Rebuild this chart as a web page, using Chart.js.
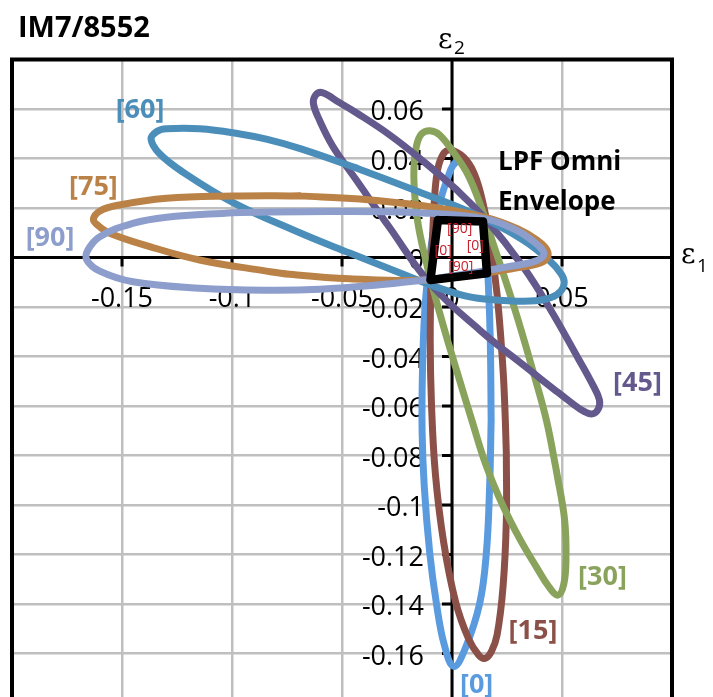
<!DOCTYPE html>
<html>
<head>
<meta charset="utf-8">
<script src="https://cdn.jsdelivr.net/npm/chart.js@4.4.1/dist/chart.umd.min.js"></script>
<style>
  html, body { margin: 0; padding: 0; background: #fff; overflow: hidden; width: 713px; height: 697px; }
  canvas { display: block; }
</style>
</head>
<body>
<canvas id="c" width="713" height="720"></canvas>
<script>
// Lamina failure ellipses in strain space (ε1, ε2) for IM7/8552 plies,
// plus the laminate-independent omni failure envelope.
// Each loop starts on a flat stretch of its outline so the closing joint stays smooth.

const PLY_NAMES = ['[0]', '[15]', '[30]', '[45]', '[60]', '[75]', '[90]'];

const PLY_0 = [[0.0178,-0.0657],[0.0174,-0.0333],[0.0165,-0.0104],[0.0153,0.0060],[0.0126,0.0246],[0.0092,0.0340],[0.0058,0.0382],[0.0030,0.0391],[0.0003,0.0370],[-0.0020,0.0320],[-0.0048,0.0246],[-0.0082,0.0120],[-0.0107,-0.0050],[-0.0124,-0.0220],[-0.0134,-0.0450],[-0.0136,-0.0700],[-0.0126,-0.0926],[-0.0101,-0.1195],[-0.0071,-0.1397],[-0.0035,-0.1565],[0.0008,-0.1652],[0.0060,-0.1580],[0.0126,-0.1397],[0.0156,-0.1195],[0.0171,-0.0926],[0.0178,-0.0657]];

const PLY_15 = [[0.0247,-0.0791],[0.0240,-0.0600],[0.0231,-0.0440],[0.0205,-0.0150],[0.0171,0.0080],[0.0130,0.0260],[0.0090,0.0360],[0.0040,0.0415],[-0.0018,0.0434],[-0.0050,0.0400],[-0.0068,0.0340],[-0.0079,0.0246],[-0.0087,0.0111],[-0.0094,-0.0037],[-0.0099,-0.0333],[-0.0093,-0.0600],[-0.0075,-0.0880],[-0.0038,-0.1150],[0.0016,-0.1390],[0.0075,-0.1540],[0.0120,-0.1605],[0.0150,-0.1620],[0.0180,-0.1590],[0.0205,-0.1525],[0.0232,-0.1330],[0.0247,-0.1061],[0.0247,-0.0791]];

const PLY_30 = [[0.0474,-0.0859],[0.0429,-0.0657],[0.0371,-0.0468],[0.0282,-0.0199],[0.0180,0.0075],[0.0132,0.0205],[0.0075,0.0330],[0.0012,0.0418],[-0.0056,0.0495],[-0.0100,0.0512],[-0.0140,0.0498],[-0.0162,0.0448],[-0.0173,0.0360],[-0.0170,0.0260],[-0.0155,0.0140],[-0.0125,0.0010],[-0.0085,-0.0130],[-0.0035,-0.0290],[0.0025,-0.0468],[0.0090,-0.0657],[0.0155,-0.0840],[0.0230,-0.1000],[0.0310,-0.1140],[0.0390,-0.1260],[0.0440,-0.1330],[0.0482,-0.1364],[0.0508,-0.1320],[0.0518,-0.1222],[0.0512,-0.1061],[0.0474,-0.0859]];

const PLY_45 = [[0.0020,0.0275],[0.0156,0.0152],[0.0323,-0.0037],[0.0444,-0.0205],[0.0575,-0.0410],[0.0640,-0.0515],[0.0670,-0.0575],[0.0665,-0.0612],[0.0638,-0.0632],[0.0600,-0.0622],[0.0540,-0.0585],[0.0460,-0.0530],[0.0353,-0.0455],[0.0126,-0.0293],[-0.0101,-0.0104],[-0.0283,0.0120],[-0.0435,0.0313],[-0.0541,0.0448],[-0.0605,0.0560],[-0.0630,0.0622],[-0.0620,0.0656],[-0.0590,0.0666],[-0.0510,0.0625],[-0.0435,0.0585],[-0.0283,0.0495],[-0.0132,0.0390],[0.0020,0.0275]];

const PLY_60 = [[-0.0435,0.0362],[-0.0132,0.0259],[0.0111,0.0172],[0.0323,0.0071],[0.0440,-0.0010],[0.0495,-0.0065],[0.0510,-0.0100],[0.0495,-0.0135],[0.0450,-0.0162],[0.0380,-0.0175],[0.0277,-0.0176],[0.0150,-0.0168],[0.0050,-0.0153],[-0.0101,-0.0110],[-0.0207,-0.0073],[-0.0465,0.0018],[-0.0692,0.0100],[-0.0995,0.0222],[-0.1223,0.0345],[-0.1330,0.0420],[-0.1368,0.0478],[-0.1340,0.0510],[-0.1298,0.0520],[-0.1147,0.0520],[-0.0970,0.0500],[-0.0844,0.0478],[-0.0690,0.0440],[-0.0435,0.0362]];

const PLY_75 = [[-0.0692,0.0249],[-0.0420,0.0236],[-0.0101,0.0205],[0.0153,0.0162],[0.0300,0.0115],[0.0390,0.0068],[0.0432,0.0030],[0.0430,-0.0005],[0.0380,-0.0028],[0.0290,-0.0043],[0.0171,-0.0060],[-0.0101,-0.0091],[-0.0465,-0.0086],[-0.0738,-0.0068],[-0.0844,-0.0055],[-0.1147,-0.0010],[-0.1374,0.0044],[-0.1556,0.0098],[-0.1610,0.0130],[-0.1630,0.0155],[-0.1600,0.0188],[-0.1525,0.0210],[-0.1298,0.0239],[-0.0995,0.0248],[-0.0692,0.0249]];

const PLY_90 = [[-0.0995,0.0181],[-0.0541,0.0186],[-0.0133,0.0180],[0.0153,0.0156],[0.0293,0.0110],[0.0370,0.0065],[0.0415,0.0025],[0.0412,0.0002],[0.0360,-0.0020],[0.0250,-0.0038],[0.0120,-0.0058],[-0.0101,-0.0088],[-0.0329,-0.0110],[-0.0600,-0.0128],[-0.0844,-0.0132],[-0.1147,-0.0124],[-0.1450,-0.0098],[-0.1601,-0.0055],[-0.1660,-0.0010],[-0.1655,0.0030],[-0.1601,0.0084],[-0.1451,0.0138],[-0.1298,0.0163],[-0.0995,0.0181]];

// Omni envelope corners (closed quadrilateral)
const OMNI_ENVELOPE = [[-0.0064,0.0152],[0.0141,0.0145],[0.0159,-0.0064],[-0.0098,-0.0091],[-0.0064,0.0152]];

// Ply label anchors (ε1, ε2)
const PLY_LABEL_AT = [[0.0112,-0.1721],[0.0368,-0.1505],[0.0684,-0.1283],[0.0843,-0.0499],[-0.1418,0.0604],[-0.1630,0.0289],[-0.1827,0.0085]];

// Envelope side labels and their anchors
const OMNI_SIDE_LABELS = ['[90]', '[0]', '[0]', '[90]'];
const OMNI_SIDE_AT = [[0.0035,0.0115],[-0.0040,0.0027],[0.0106,0.0048],[0.0040,-0.0038]];

const ENVELOPE_TEXT = ['LPF Omni', 'Envelope'];
const ENVELOPE_TEXT_AT = [[0.0209,0.0354],[0.0209,0.0192]];

// Axis ticks
const X_TICKS = [-0.15, -0.1, -0.05, 0, 0.05];
const Y_TICKS = [0.06, 0.04, 0.02, 0, -0.02, -0.04, -0.06, -0.08, -0.1, -0.12, -0.14, -0.16];

const PLY_COLORS = ['#5A9BE0', '#8B5149', '#8AA35C', '#63598D', '#4B8EBA', '#BB8247', '#8D9ECC'];
const SANS = '"Open Sans", "Liberation Sans", sans-serif';

const toXY = arr => arr.map(([x, y]) => ({ x, y }));
const plies = [PLY_0, PLY_15, PLY_30, PLY_45, PLY_60, PLY_75, PLY_90];

// first dataset is painted last, so the envelope goes first and [0] last
const datasets = [{
  label: 'LPF Omni Envelope',
  data: toXY(OMNI_ENVELOPE),
  borderColor: '#000',
  borderWidth: 8.5,
  borderJoinStyle: 'round',
  borderCapStyle: 'round',
  tension: 0,
  showLine: true,
  pointRadius: 0
}];
for (let i = plies.length - 1; i >= 0; i--) {
  datasets.push({
    label: PLY_NAMES[i],
    data: toXY(plies[i]),
    borderColor: PLY_COLORS[i],
    borderWidth: 7,
    borderJoinStyle: 'round',
    borderCapStyle: 'round',
    tension: 0.4,
    showLine: true,
    pointRadius: 0
  });
}

const crossAxes = {
  id: 'crossAxes',
  beforeDatasetsDraw(chart) {
    const { ctx, chartArea: a, scales: { x, y } } = chart;
    const x0 = x.getPixelForValue(0), y0 = y.getPixelForValue(0);
    ctx.save();
    ctx.strokeStyle = '#000';
    ctx.lineWidth = 3;
    ctx.beginPath();
    ctx.moveTo(a.left, y0); ctx.lineTo(a.right, y0);
    ctx.moveTo(x0, a.top); ctx.lineTo(x0, a.bottom);
    X_TICKS.forEach(v => { const px = x.getPixelForValue(v); ctx.moveTo(px, y0); ctx.lineTo(px, y0 + 9); });
    Y_TICKS.forEach(v => { const py = y.getPixelForValue(v); ctx.moveTo(x0 - 10, py); ctx.lineTo(x0, py); });
    ctx.stroke();

    ctx.fillStyle = '#000';
    ctx.font = '27px ' + SANS;
    ctx.textBaseline = 'alphabetic';
    ctx.textAlign = 'center';
    X_TICKS.forEach(v => ctx.fillText(String(v), x.getPixelForValue(v), y0 + 49.5));
    ctx.textAlign = 'right';
    Y_TICKS.forEach(v => ctx.fillText(String(v), x0 - 28, y.getPixelForValue(v) + 11));
    ctx.restore();
  },
  afterDatasetsDraw(chart) {
    const { ctx, scales: { x, y } } = chart;
    ctx.save();
    // ply names
    ctx.font = 'bold 27px ' + SANS;
    ctx.textAlign = 'center';
    ctx.textBaseline = 'alphabetic';
    PLY_NAMES.forEach((name, i) => {
      const [lx, ly] = PLY_LABEL_AT[i];
      ctx.fillStyle = PLY_COLORS[i];
      ctx.fillText(name, x.getPixelForValue(lx), y.getPixelForValue(ly) + 9.5);
    });
    // envelope caption
    ctx.fillStyle = '#000';
    ctx.font = 'bold 26px ' + SANS;
    ctx.textAlign = 'left';
    ENVELOPE_TEXT.forEach((t, i) => {
      const [lx, ly] = ENVELOPE_TEXT_AT[i];
      ctx.fillText(t, x.getPixelForValue(lx), y.getPixelForValue(ly));
    });
    // envelope side labels
    ctx.fillStyle = '#C8202A';
    ctx.font = '14px ' + SANS;
    ctx.textAlign = 'center';
    ctx.textBaseline = 'middle';
    OMNI_SIDE_LABELS.forEach((t, i) => {
      const [lx, ly] = OMNI_SIDE_AT[i];
      ctx.fillText(t, x.getPixelForValue(lx), y.getPixelForValue(ly));
    });
    ctx.restore();
  },
  afterDraw(chart) {
    const { ctx, chartArea: a, scales: { x, y } } = chart;
    const x0 = x.getPixelForValue(0), y0 = y.getPixelForValue(0);
    ctx.save();
    ctx.strokeStyle = '#000';
    ctx.lineWidth = 4;
    ctx.strokeRect(a.left, a.top, a.right - a.left, a.bottom - a.top);

    ctx.fillStyle = '#000';
    ctx.textAlign = 'left';
    ctx.textBaseline = 'alphabetic';
    ctx.font = 'bold 29px ' + SANS;
    ctx.fillText('IM7/8552', 18, 37.3);

    // axis titles ε2 (top of vertical axis) and ε1 (right end of horizontal axis)
    ctx.font = '28px "DejaVu Serif", "Liberation Serif", serif';
    ctx.fillText('ε', x0 - 14, a.top - 12);
    ctx.fillText('ε', a.right + 9, y0 + 5.5);
    ctx.font = '19px ' + SANS;
    ctx.fillText('2', x0 + 2, a.top - 6);
    ctx.fillText('1', a.right + 25, y0 + 14);
    ctx.restore();
  }
};

new Chart(document.getElementById('c').getContext('2d'), {
  type: 'scatter',
  data: { datasets },
  options: {
    responsive: false,
    animation: false,
    devicePixelRatio: 1,
    layout: { padding: { left: 12, right: 41, top: 59.5, bottom: 17 } },
    plugins: { legend: { display: false }, tooltip: { enabled: false } },
    scales: {
      x: {
        type: 'linear', min: -0.2, max: 0.1,
        ticks: { stepSize: 0.05, display: false },
        grid: { color: c => (c.tick && c.tick.value === 0) ? 'rgba(0,0,0,0)' : '#BFBFBF', lineWidth: 2.5, drawTicks: false },
        border: { display: false }
      },
      y: {
        type: 'linear', min: -0.18, max: 0.08,
        ticks: { stepSize: 0.02, display: false },
        grid: { color: c => (c.tick && c.tick.value === 0) ? 'rgba(0,0,0,0)' : '#BFBFBF', lineWidth: 2.5, drawTicks: false },
        border: { display: false }
      }
    }
  },
  plugins: [crossAxes]
});
</script>
</body>
</html>
